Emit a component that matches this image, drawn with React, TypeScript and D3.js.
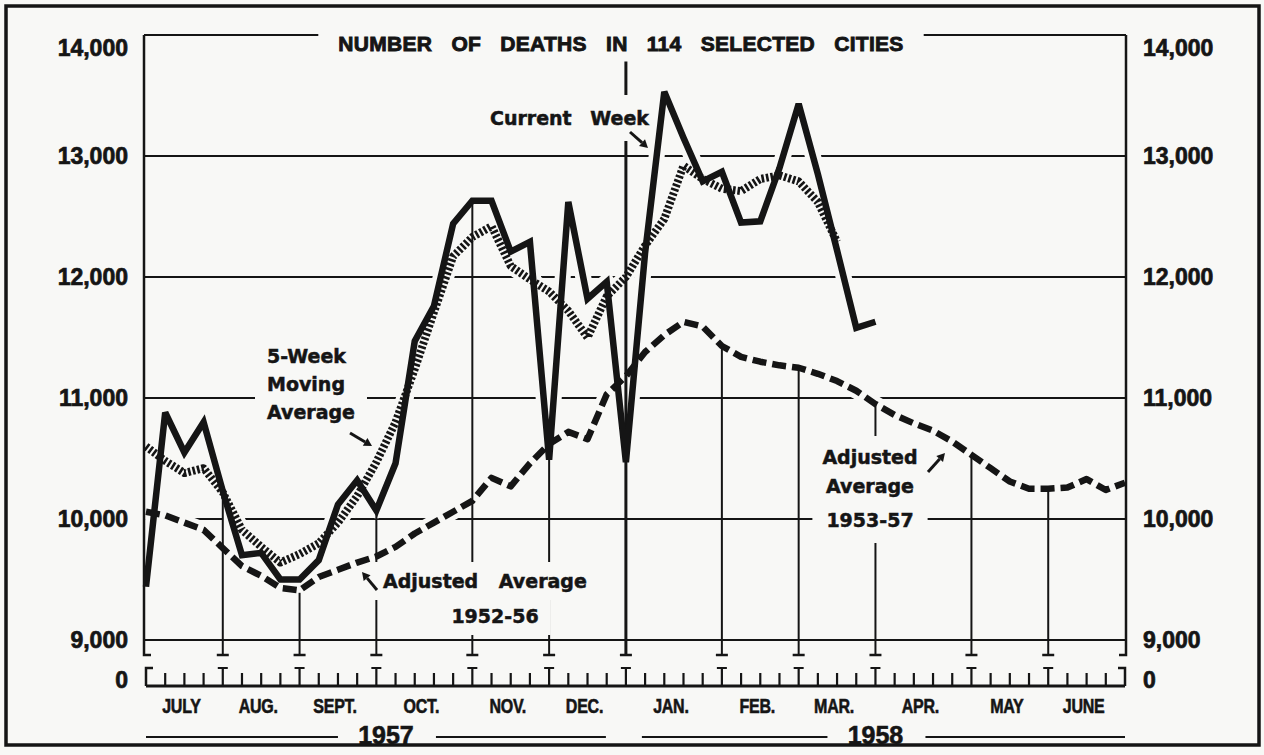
import React, { useEffect, useRef } from 'react'
import * as d3 from 'd3'

// weekly deaths, week 0 = first week of July 1957
const currentWeek = [
  9440, 10880, 10550, 10800, 10230, 9700, 9720, 9500, 9500, 9660,
  10120, 10320, 10070, 10460, 11470, 11760, 12440, 12630, 12630, 12210,
  12290, 10490, 12620, 11820, 11960, 10470, 12200, 13530, 13150, 12790,
  12870, 12450, 12460, 12900, 13430, 12850, 12220, 11580, 11630,
]
const movingAverage = [
  10600, 10480, 10380, 10420, 10220, 9910, 9770, 9640, 9710, 9800,
  9970, 10190, 10470, 10800, 11240, 11710, 12170, 12330, 12420, 12090,
  11980, 11880, 11720, 11500, 11840, 12000, 12260, 12480, 12920, 12810,
  12730, 12710, 12810, 12840, 12790, 12620, 12290,
]
const adjustedAverage = [
  10060, 10030, 9970, 9910, 9760, 9610, 9530, 9430, 9410, 9520,
  9580, 9640, 9690, 9770, 9880, 9970, 10060, 10150, 10340, 10270,
  10460, 10620, 10720, 10660, 11030, 11180, 11380, 11520, 11630, 11590,
  11430, 11340, 11300, 11270, 11250, 11200, 11140, 11060, 10950, 10860,
  10790, 10730, 10640, 10530, 10420, 10310, 10250, 10250, 10260, 10330,
  10240, 10300,
]

const monthLabels = ['JULY', 'AUG.', 'SEPT.', 'OCT.', 'NOV.', 'DEC.', 'JAN.', 'FEB.', 'MAR.', 'APR.', 'MAY', 'JUNE']
const weeksPerMonth = [4, 4, 4, 5, 4, 4, 5, 4, 4, 5, 4, 4]
const yearLabels = ['1957', '1958']
const yearSpans = [[0, 25], [25, 51]]
const yTicks = [9000, 10000, 11000, 12000, 13000, 14000]
// how high each month rule reaches (deaths), inner month boundaries
const ruleTops = [10250, 9390, 10100, 12620, 10490, 13780, 11440, 11250, 10950, 10530, 10250]
const currentWeekIndex = 25

const W = 1264
const H = 755
const PAPER = '#f8f8f6'
const INK = '#151515'
const NUM_FONT = '"Liberation Sans", Arial, sans-serif'
const NOTE_FONT = '"DejaVu Sans", sans-serif'

export default function App() {
  const ref = useRef<SVGSVGElement>(null)

  useEffect(() => {
    const svg = d3.select(ref.current)
    svg.selectAll('*').remove()

    const x = d3.scaleLinear().domain([0, 51]).range([146, 1125])
    const y = d3.scaleLinear().domain([9000, 14000]).range([640, 35])
    const left = 144
    const right = 1126
    const foot = 655
    const axisY = 686

    const bounds = [0, ...Array.from(d3.cumsum(weeksPerMonth))]

    svg.append('rect').attr('width', W).attr('height', H).attr('fill', PAPER)
    svg.append('rect')
      .attr('x', 6).attr('y', 6).attr('width', 1253).attr('height', 739)
      .attr('fill', 'none').attr('stroke', INK).attr('stroke-width', 3.5)

    const gridH = svg.append('g')
    const halo = svg.append('g')
    const gridV = svg.append('g')
    const knock = svg.append('g')
    const data = svg.append('g')
    const notes = svg.append('g')

    // horizontal rules
    yTicks.forEach(t => {
      gridH.append('line')
        .attr('x1', left).attr('x2', right)
        .attr('y1', y(t)).attr('y2', y(t))
        .attr('stroke', INK).attr('stroke-width', 2)
    })

    // plot borders with little feet
    gridV.append('path')
      .attr('d', `M${left},${y(14000)} V${foot} h7`)
      .attr('fill', 'none').attr('stroke', INK).attr('stroke-width', 2.5)
    gridV.append('path')
      .attr('d', `M${right},${y(14000)} V${foot} h-7`)
      .attr('fill', 'none').attr('stroke', INK).attr('stroke-width', 2.5)

    // month rules
    bounds.slice(1, -1).forEach((b, k) => {
      const xx = x(b)
      gridV.append('line')
        .attr('x1', xx).attr('x2', xx)
        .attr('y1', y(ruleTops[k])).attr('y2', foot)
        .attr('stroke', INK).attr('stroke-width', b === currentWeekIndex ? 3 : 2)
      gridV.append('line')
        .attr('x1', xx - 6).attr('x2', xx + 6)
        .attr('y1', foot).attr('y2', foot)
        .attr('stroke', INK).attr('stroke-width', 2.5)
    })

    // bottom week axis
    const axis = svg.append('g')
    axis.append('line')
      .attr('x1', x(0)).attr('x2', x(51))
      .attr('y1', axisY).attr('y2', axisY)
      .attr('stroke', INK).attr('stroke-width', 3)
    d3.range(52).forEach(i => {
      const xx = x(i)
      if (i === 0 || i === 51) {
        const dir = i === 0 ? 7 : -7
        axis.append('path')
          .attr('d', `M${xx + dir},${axisY - 18} H${xx} V${axisY}`)
          .attr('fill', 'none').attr('stroke', INK).attr('stroke-width', 2.5)
      } else if (bounds.includes(i)) {
        axis.append('path')
          .attr('d', `M${xx},${axisY} V${axisY - 18} M${xx - 5},${axisY - 18} H${xx + 5}`)
          .attr('fill', 'none').attr('stroke', INK).attr('stroke-width', 2.2)
      } else {
        axis.append('line')
          .attr('x1', xx).attr('x2', xx)
          .attr('y1', axisY - 13).attr('y2', axisY)
          .attr('stroke', INK).attr('stroke-width', 2.2)
      }
    })

    // month names, condensed
    monthLabels.forEach((m, i) => {
      const cx = (x(bounds[i]) + x(bounds[i + 1])) / 2 - 3
      axis.append('text')
        .attr('transform', `translate(${cx},713) scale(0.8,1)`)
        .attr('text-anchor', 'middle')
        .attr('font-family', NUM_FONT).attr('font-weight', 700)
        .attr('font-size', 20).attr('letter-spacing', -0.3)
        .attr('fill', INK).attr('stroke', INK).attr('stroke-width', 0.6)
        .text(m)
    })

    // years with rules either side
    yearLabels.forEach((yr, i) => {
      const [a, b] = yearSpans[i]
      const x0 = x(a) + (i === 0 ? 0 : 16)
      const x1 = x(b) - (i === 0 ? 20 : 0)
      const cx = (x(a) + x(b)) / 2
      axis.append('text')
        .attr('x', cx).attr('y', 744)
        .attr('text-anchor', 'middle')
        .attr('font-family', NUM_FONT).attr('font-weight', 700).attr('font-size', 25)
        .attr('fill', INK).attr('stroke', INK).attr('stroke-width', 0.6)
        .text(yr)
      axis.append('line').attr('x1', x0).attr('x2', cx - 48).attr('y1', 737).attr('y2', 737)
        .attr('stroke', INK).attr('stroke-width', 2)
      axis.append('line').attr('x1', cx + 50).attr('x2', x1).attr('y1', 737).attr('y2', 737)
        .attr('stroke', INK).attr('stroke-width', 2)
    })

    // y labels on both sides
    const fmt = d3.format(',')
    const yLabels = yTicks.map(t => ({ text: fmt(t), pos: y(t) + (t === 14000 ? 13 : 0) }))
    yLabels.push({ text: '0', pos: axisY - 6 })
    yLabels.forEach(l => {
      ;[{ xx: 128, anchor: 'end' }, { xx: 1143, anchor: 'start' }].forEach(side => {
        svg.append('text')
          .attr('x', side.xx).attr('y', l.pos).attr('dy', '0.36em')
          .attr('text-anchor', side.anchor)
          .attr('font-family', NUM_FONT).attr('font-weight', 700).attr('font-size', 23)
          .attr('fill', INK).attr('stroke', INK).attr('stroke-width', 0.7)
          .text(l.text)
      })
    })

    // series
    const line = d3.line<number>().x((d, i) => x(i)).y(d => y(d))
    const series = [
      { values: adjustedAverage, width: 6.5, dash: '14,6' },
      { values: movingAverage, width: 8, dash: '2.6,2' },
      { values: currentWeek, width: 6.5, dash: null },
    ]
    series.forEach(s => {
      halo.append('path')
        .attr('d', line(s.values))
        .attr('fill', 'none').attr('stroke', PAPER)
        .attr('stroke-width', 16).attr('stroke-linejoin', 'round')
    })
    series.forEach(s => {
      data.append('path')
        .attr('d', line(s.values))
        .attr('fill', 'none').attr('stroke', INK)
        .attr('stroke-width', s.width)
        .attr('stroke-linejoin', s.dash ? 'round' : 'miter')
        .attr('stroke-miterlimit', 3)
        .attr('stroke-dasharray', s.dash)
    })

    // text notes with knocked-out backgrounds
    const addNote = (text: string, tx: number, ty: number, opts: any = {}) => {
      const t = notes.append('text')
        .attr('x', tx).attr('y', ty)
        .attr('text-anchor', opts.anchor || 'start')
        .attr('font-family', opts.font || NOTE_FONT)
        .attr('font-weight', 700)
        .attr('font-size', opts.size || 19)
        .attr('word-spacing', opts.wordSpacing || 0)
        .attr('letter-spacing', opts.letterSpacing || 0)
        .attr('fill', INK).attr('stroke', INK).attr('stroke-width', opts.stroke ?? 0.5)
        .text(text)
      const bb = (t.node() as SVGTextElement).getBBox()
      const px = opts.padX ?? 12
      const py = opts.padY ?? 8
      knock.append('rect')
        .attr('x', bb.x - px).attr('y', bb.y - py)
        .attr('width', bb.width + 2 * px).attr('height', bb.height + 2 * py)
        .attr('fill', PAPER)
    }

    addNote('NUMBER OF DEATHS IN 114 SELECTED CITIES', 621, 51, {
      anchor: 'middle', font: NUM_FONT, size: 21, wordSpacing: 13, letterSpacing: 0.3, padX: 20, padY: 6, stroke: 0.9,
    })
    addNote('Current Week', 490, 125, { wordSpacing: 12, padY: 12 })
    addNote('5-Week', 267, 363)
    addNote('Moving', 267, 391)
    addNote('Average', 267, 419)
    addNote('Adjusted Average', 383, 588, { wordSpacing: 14 })
    addNote('1952-56', 495, 623, { anchor: 'middle' })
    addNote('Adjusted', 870, 464, { anchor: 'middle', padY: 10 })
    addNote('Average', 870, 493, { anchor: 'middle', padY: 10 })
    addNote('1953-57', 870, 527, { anchor: 'middle', padX: 14, padY: 12 })

    // arrows
    const arrows = [
      [630, 132, 648, 148],
      [350, 433, 372, 446],
      [377, 590, 362, 572],
      [928, 472, 945, 453],
    ]
    arrows.forEach(([x1, y1, x2, y2]) => {
      const ang = Math.atan2(y2 - y1, x2 - x1)
      const len = 8
      const hx = x2 - len * Math.cos(ang)
      const hy = y2 - len * Math.sin(ang)
      notes.append('line')
        .attr('x1', x1).attr('y1', y1).attr('x2', hx).attr('y2', hy)
        .attr('stroke', INK).attr('stroke-width', 3)
      const nx = -Math.sin(ang) * 4.5
      const ny = Math.cos(ang) * 4.5
      notes.append('path')
        .attr('d', `M${x2},${y2} L${hx + nx},${hy + ny} L${hx - nx},${hy - ny} Z`)
        .attr('fill', INK)
    })
  }, [])

  return (
    <svg
      ref={ref}
      width={W}
      height={H}
      style={{ position: 'absolute', left: 0, top: 0, display: 'block' }}
    />
  )
}
